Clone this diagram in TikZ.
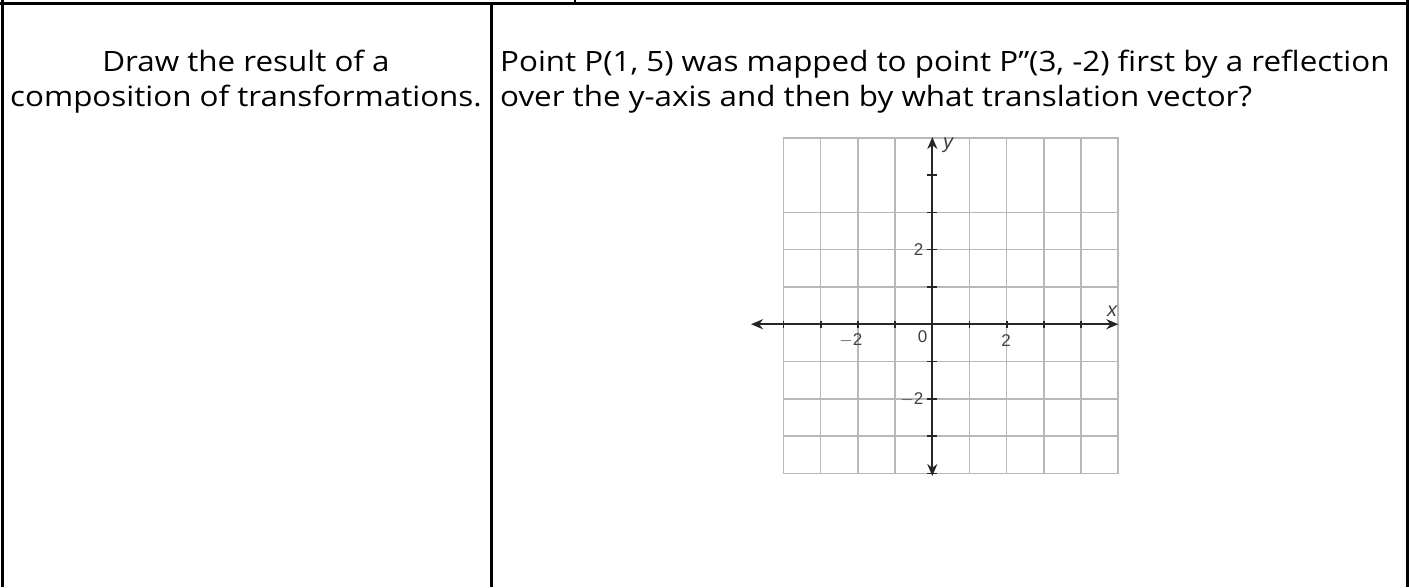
\documentclass[tikz,border=0pt]{standalone}
\usepackage{fontspec}
\setmainfont{Open Sans}[FakeStretch=1.12]
\newfontfamily\axfont{Liberation Sans}
\usetikzlibrary{arrows.meta}
\tikzset{
  rule/.style={line width=3pt, black},
  gridline/.style={line width=1.4pt, black!28},
  axisline/.style={line width=2pt, black!85, {Stealth[length=12pt,width=10pt]}-{Stealth[length=12pt,width=10pt]}},
  tickmark/.style={line width=1.6pt, black!85},
  qtext/.style={font=\fontsize{28}{34}\selectfont, inner sep=0pt},
  axlabel/.style={font=\axfont\fontsize{17}{20}\selectfont, inner sep=0pt, text=black!75},
  varlabel/.style={font=\axfont\itshape\fontsize{20}{22}\selectfont, inner sep=0pt, text=black!75}
}
\begin{document}
\begin{tikzpicture}[x=1pt,y=-1pt]
\useasboundingbox (0,0) rectangle (1409,587);
\fill[white] (0,0) rectangle (1409,587);
% table rules
\draw[rule] (0,3) -- (1409,3);
\draw[rule] (2,0) -- (2,587);
\draw[rule] (491.5,3) -- (491.5,587);
\draw[rule] (1407.5,0) -- (1407.5,587);
\draw[line width=2pt] (575,0) -- (575,3);
% left text
\node[qtext, anchor=base] (l1) at (246,71) {Draw the result of a};
\node[qtext, anchor=base] (l2) at (246,106) {composition of transformations.};
% right text
\node[qtext, anchor=base west] (r1) at (500,71) {Point P(1, 5) was mapped to point P”(3, -2) first by a reflection};
\node[qtext, anchor=base west] (r2) at (500,106) {over the y-axis and then by what translation vector?};
% grid: 9 x 9 cells, x from -4 to 5, y from -4 to 5
\foreach \i in {-3,...,4} \draw[gridline] ({932.3+37.2*\i},137.8) -- ({932.3+37.2*\i},473.5);
\foreach \j in {-3,...,4} \draw[gridline] (783.5,{324.2+37.3*\j}) -- (1118.3,{324.2+37.3*\j});
\draw[gridline, line width=1.8pt] (783.5,137.8) rectangle (1118.3,473.5);
% axes
\coordinate (xl) at (751,324.2);
\coordinate (xr) at (1118.3,324.2);
\coordinate (yt) at (932.3,137);
\coordinate (yb) at (932.3,476);
\draw[axisline] (xl) -- (xr);
\draw[axisline] (yb) -- (yt);
\foreach \i in {-4,-3,-2,-1,1,2,3,4} \draw[tickmark] ({932.3+37.2*\i},320.5) -- ({932.3+37.2*\i},328);
\foreach \j in {-4,-3,-2,-1,1,2,3,4} \draw[tickmark] (927.3,{324.2+37.3*\j}) -- (937.3,{324.2+37.3*\j});
% labels
\node[axlabel, anchor=east] (ly2) at (923.5,249.6) {2};
\node[axlabel, anchor=east] (lym2) at (923.5,398.8) {$-$2};
\node[axlabel, anchor=east] (lxm2) at (862.5,340.5) {$-$2};
\node[axlabel] (lx2) at (1006,340.5) {2};
\node[axlabel] (l0) at (922.5,336.5) {0};
\node[varlabel] (lx) at (1112,311) {x};
\node[varlabel] (ly) at (948,145) {y};
\end{tikzpicture}
\end{document}
